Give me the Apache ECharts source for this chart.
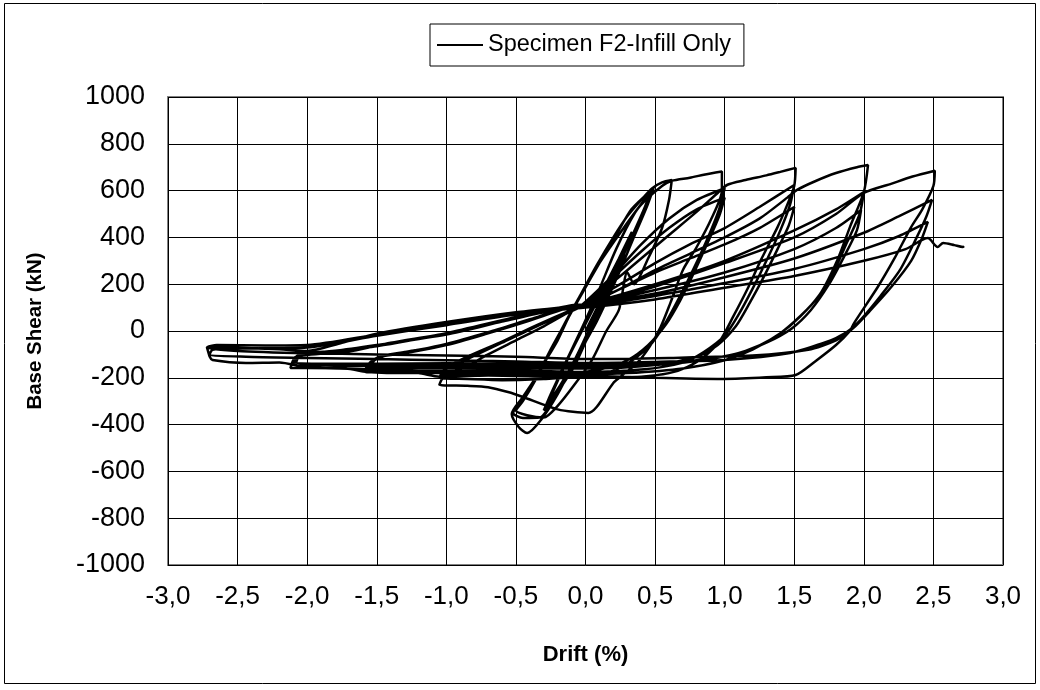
<!DOCTYPE html>
<html lang="en">
<head>
    <meta charset="UTF-8"/>
    <title>Specimen F2 - Base Shear vs Drift</title>
    <style>
        * {
            margin: 0;
            padding: 0;
        }

        body {
            background: #fff;
            width: 1040px;
            height: 690px;
            overflow: hidden;
        }

        .chart {
            width: 1040px;
            height: 690px;
        }
    </style>
    <script src="https://cdn.jsdelivr.net/npm/echarts@6/dist/echarts.min.js"></script>
</head>
<body>
<div class="chart" id="chart"></div>
<script>
    // drift (%), base shear (kN), cycle by cycle
    const cyc025a = [[0, 0], [0.1, 120], [0.2, 250], [0.3, 370], [0.26, 300], [0.15, 150], [0.04, 0], [-0.08, -130], [-0.18, -230], [-0.27, -310], [-0.22, -240], [-0.12, -110], [0, 30]];
    const cyc025b = [[0, 30], [0.12, 170], [0.24, 310], [0.33, 420], [0.28, 340], [0.16, 170], [0.05, 20], [-0.08, -150], [-0.2, -260], [-0.3, -340], [-0.25, -270], [-0.14, -130], [-0.02, 20]];
    const cyc05a = [[-0.02, 20], [0.1, 180], [0.22, 350], [0.35, 500], [0.49, 611], [0.44, 530], [0.34, 390], [0.22, 220], [0.08, 40], [-0.06, -110], [-0.2, -270], [-0.32, -380], [-0.42, -436], [-0.48, -410], [-0.53, -355], [-0.46, -290], [-0.38, -220], [-0.3, -140], [-0.2, -40], [-0.12, 60], [-0.02, 165]];
    const cyc05b = [[-0.02, 165], [0.1, 290], [0.22, 410], [0.33, 520], [0.47, 600], [0.42, 520], [0.3, 360], [0.2, 230], [0.08, 80], [-0.05, -90], [-0.2, -260], [-0.33, -370], [-0.45, -372], [-0.52, -350], [-0.47, -305], [-0.38, -230], [-0.28, -120], [-0.16, 20], [-0.04, 150]];
    const cyc05c = [[-0.04, 150], [0.08, 280], [0.2, 400], [0.3, 490], [0.4, 560], [0.48, 610], [0.55, 635], [0.62, 645], [0.6, 560], [0.55, 440], [0.45, 310], [0.35, 200], [0.3, 250], [0.24, 90], [0.15, 0], [0.05, -120], [-0.08, -230], [-0.2, -320], [-0.3, -370], [-0.42, -360], [-0.5, -340], [-0.45, -300], [-0.36, -210], [-0.26, -90], [-0.14, 40], [-0.02, 170]];
    const cyc10a = [[-0.02, 170], [0.1, 290], [0.25, 420], [0.4, 540], [0.55, 620], [0.62, 642], [0.75, 655], [0.85, 668], [0.98, 682], [0.98, 600], [0.9, 474], [0.8, 360], [0.7, 261], [0.61, 120], [0.54, 17], [0.46, -68], [0.37, -137], [0.25, -196], [0.2, -222], [0.08, -325], [0.02, -350], [-0.2, -335], [-0.45, -282], [-0.55, -262], [-0.7, -240], [-0.85, -234], [-1.05, -230], [-1.02, -196], [-0.85, -150], [-0.7, -100], [-0.5, -40], [-0.3, 20], [-0.13, 77], [-0.02, 115]];
    const cyc10b = [[-0.02, 115], [0.2, 240], [0.4, 370], [0.6, 480], [0.8, 560], [1.0, 610], [0.96, 520], [0.88, 400], [0.78, 270], [0.68, 150], [0.58, 40], [0.48, -50], [0.35, -120], [0.2, -170], [0, -195], [-0.3, -205], [-0.6, -210], [-0.85, -205], [-1.05, -200], [-1.02, -170], [-0.85, -120], [-0.6, -50], [-0.35, 20], [-0.12, 80], [0, 115]];
    const cyc10c = [[0, 115], [0.2, 230], [0.4, 340], [0.6, 440], [0.8, 520], [1.0, 570], [0.96, 490], [0.88, 380], [0.78, 250], [0.68, 130], [0.58, 30], [0.45, -60], [0.3, -125], [0.1, -165], [-0.2, -185], [-0.5, -190], [-0.8, -190], [-1.03, -188], [-1.0, -160], [-0.85, -110], [-0.6, -45], [-0.35, 25], [-0.1, 90], [0, 112]];
    const cyc15a = [[0, 112], [0.2, 210], [0.4, 310], [0.6, 410], [0.8, 510], [0.95, 590], [1.02, 625], [1.15, 645], [1.3, 665], [1.4, 680], [1.51, 697], [1.5, 620], [1.45, 540], [1.38, 444], [1.26, 303], [1.16, 175], [1.06, 60], [0.97, -38], [0.85, -111], [0.73, -154], [0.6, -180], [0.4, -195], [0.1, -200], [-0.3, -195], [-0.7, -190], [-1.05, -195], [-1.2, -180], [-1.4, -177], [-1.59, -175], [-1.55, -135], [-1.48, -111], [-1.25, -90], [-1.0, -60], [-0.7, -10], [-0.4, 45], [-0.15, 95], [0, 118]];
    const cyc15b = [[0, 118], [0.25, 200], [0.5, 290], [0.75, 370], [1.0, 440], [1.25, 530], [1.5, 624], [1.47, 540], [1.4, 430], [1.3, 300], [1.2, 180], [1.1, 70], [1.0, -20], [0.85, -90], [0.7, -135], [0.4, -165], [0, -175], [-0.5, -170], [-1.0, -172], [-1.3, -170], [-1.57, -168], [-1.53, -130], [-1.4, -100], [-1.2, -80], [-1.0, -55], [-0.7, -5], [-0.4, 50], [-0.15, 95], [0, 115]];
    const cyc15c = [[0, 115], [0.25, 180], [0.5, 250], [0.75, 310], [1.0, 370], [1.25, 440], [1.5, 530], [1.46, 450], [1.38, 350], [1.28, 230], [1.18, 120], [1.08, 20], [0.95, -60], [0.8, -110], [0.5, -145], [0, -160], [-0.5, -160], [-1.0, -160], [-1.3, -158], [-1.55, -158], [-1.5, -115], [-1.3, -90], [-1.0, -60], [-0.7, -10], [-0.4, 45], [-0.15, 95], [0, 112]];
    const cyc20a = [[0, 112], [0.25, 180], [0.5, 260], [0.75, 330], [1.0, 400], [1.25, 480], [1.45, 570], [1.52, 603], [1.65, 640], [1.8, 675], [1.95, 700], [2.03, 709], [2.0, 594], [1.9, 444], [1.81, 303], [1.69, 162], [1.54, 60], [1.4, -10], [1.2, -80], [1.0, -125], [0.7, -160], [0.3, -180], [0, -185], [-0.5, -180], [-1.0, -180], [-1.24, -180], [-1.57, -175], [-1.72, -160], [-2.0, -158], [-2.12, -158], [-2.08, -110], [-1.72, -90], [-1.4, -50], [-1.0, -9], [-0.5, 60], [-0.1, 110], [0, 115]];
    const cyc20b = [[0, 115], [0.5, 200], [1.0, 300], [1.5, 430], [1.8, 520], [2.0, 594], [1.97, 500], [1.88, 380], [1.78, 250], [1.65, 130], [1.5, 40], [1.35, -30], [1.15, -85], [0.9, -120], [0.5, -145], [0, -155], [-0.5, -150], [-1.0, -150], [-1.5, -150], [-1.8, -148], [-2.1, -145], [-2.07, -105], [-1.9, -90], [-1.5, -65], [-1.0, -10], [-0.6, 45], [-0.3, 80], [0, 110]];
    const cyc20c = [[0, 110], [0.5, 175], [1.0, 250], [1.5, 350], [1.8, 440], [1.98, 517], [1.95, 430], [1.86, 320], [1.75, 200], [1.62, 90], [1.48, 10], [1.3, -50], [1.1, -95], [0.8, -125], [0.4, -140], [0, -145], [-0.5, -140], [-1.0, -138], [-1.5, -140], [-1.8, -140], [-2.08, -138], [-2.05, -100], [-1.8, -85], [-1.5, -60], [-1.0, -15], [-0.6, 40], [-0.3, 80], [0, 108]];
    const cyc25a = [[0, 108], [0.5, 190], [1.0, 290], [1.5, 400], [1.8, 500], [2.0, 590], [2.2, 630], [2.35, 660], [2.51, 685], [2.5, 620], [2.42, 520], [2.34, 444], [2.22, 310], [2.1, 188], [1.93, 34], [1.9, 0], [1.8, -60], [1.65, -130], [1.51, -188], [1.3, -198], [0.99, -205], [0.5, -200], [0, -190], [-0.5, -180], [-1.0, -175], [-1.5, -165], [-2.0, -155], [-2.2, -135], [-2.44, -137], [-2.68, -124], [-2.7, -110], [-2.72, -70], [-2.5, -72], [-2.2, -78], [-2.0, -85], [-1.75, -50], [-1.5, -12], [-1.0, 38], [-0.5, 80], [0, 112]];
    const cyc25b = [[0, 112], [0.5, 160], [1.0, 230], [1.5, 310], [2.0, 420], [2.25, 490], [2.49, 560], [2.45, 490], [2.38, 400], [2.26, 261], [2.12, 150], [1.98, 50], [1.9, 5], [1.8, -30], [1.71, -51], [1.47, -94], [1.0, -124], [0.5, -132], [0, -137], [-0.5, -130], [-1.0, -125], [-1.5, -120], [-2.0, -115], [-2.44, -110], [-2.7, -100], [-2.68, -80], [-2.5, -75], [-2.0, -70], [-1.5, -20], [-1.0, 25], [-0.5, 70], [0, 105]];
    const cyc25c = [[0, 105], [0.5, 150], [1.0, 205], [1.5, 265], [2.0, 350], [2.25, 405], [2.46, 466], [2.42, 400], [2.34, 300], [2.2, 190], [2.05, 90], [1.92, 10], [1.8, -40], [1.6, -80], [1.2, -105], [0.6, -115], [0, -120], [-0.5, -110], [-1.0, -105], [-1.5, -100], [-2.0, -95], [-2.5, -85], [-2.72, -70], [-2.65, -60], [-2.3, -62], [-2.0, -60], [-1.5, -15], [-1.0, 30], [-0.5, 75], [0, 100]];
    const pushFinal = [[0, 100], [0.5, 135], [1.0, 185], [1.5, 235], [2.0, 300], [2.3, 350], [2.46, 397], [2.53, 359], [2.57, 376], [2.65, 367], [2.71, 359], [2.72, 363]];

    const xTicks = [-3, -2.5, -2, -1.5, -1, -0.5, 0, 0.5, 1, 1.5, 2, 2.5, 3];
    const yTicks = [-1000, -800, -600, -400, -200, 0, 200, 400, 600, 800, 1000];

    const cycles = [cyc025a, cyc025b, cyc05a, cyc05b, cyc05c, cyc10a, cyc10b, cyc10c,
        cyc15a, cyc15b, cyc15c, cyc20a, cyc20b, cyc20c, cyc25a, cyc25b, cyc25c, pushFinal];
    const loopData = [].concat(...cycles);

    const myChart = echarts.init(document.getElementById("chart"));
    const font = "Liberation Sans, Arial, sans-serif";
    const seriesName = "Specimen F2-Infill Only";

    const option = {
        animation: false,
        backgroundColor: "#fff",
        graphic: [{
            type: "rect",
            shape: {x: 4.5, y: 3.5, width: 1031, height: 680},
            style: {fill: "none", stroke: "#000", lineWidth: 1},
            silent: true
        }],
        legend: {
            left: 430,
            top: 24,
            padding: [9, 13, 9, 7],
            itemWidth: 46,
            itemHeight: 2,
            itemGap: 5,
            borderColor: "#000",
            borderWidth: 1,
            data: [{name: seriesName, icon: "rect"}],
            textStyle: {fontFamily: font, fontSize: 23.5, color: "#000"}
        },
        grid: {
            left: 168,
            top: 97,
            width: 835,
            height: 468,
            show: true,
            borderColor: "#808080",
            borderWidth: 2,
            containLabel: false
        },
        xAxis: {
            type: "value",
            min: xTicks[0],
            max: xTicks[xTicks.length - 1],
            interval: 0.5,
            name: "Drift (%)",
            nameLocation: "middle",
            nameGap: 79,
            nameTextStyle: {fontFamily: font, fontSize: 22, fontWeight: "bold", color: "#000"},
            axisLine: {show: false},
            axisTick: {show: false},
            axisLabel: {
                margin: 19,
                fontFamily: font,
                fontSize: 26,
                color: "#000",
                formatter: v => v.toFixed(1).replace(".", ",")
            },
            splitLine: {show: true, lineStyle: {color: "#000", width: 1}}
        },
        yAxis: {
            type: "value",
            min: yTicks[0],
            max: yTicks[yTicks.length - 1],
            interval: 200,
            name: "Base Shear (kN)",
            nameLocation: "middle",
            nameRotate: 90,
            nameGap: 122,
            nameTextStyle: {fontFamily: font, fontSize: 20.5, fontWeight: "bold", color: "#000"},
            axisLine: {show: false},
            axisTick: {show: false},
            axisLabel: {
                margin: 23,
                fontFamily: font,
                fontSize: 27,
                color: "#000",
                formatter: v => String(v)
            },
            splitLine: {show: true, lineStyle: {color: "#000", width: 1}}
        },
        series: [{
            name: seriesName,
            type: "line",
            data: loopData,
            symbol: "none",
            smooth: 0.25,
            lineStyle: {color: "#000", width: 2.5},
            itemStyle: {color: "#000"}
        }]
    };
    myChart.setOption(option);
</script>
</body>
</html>
